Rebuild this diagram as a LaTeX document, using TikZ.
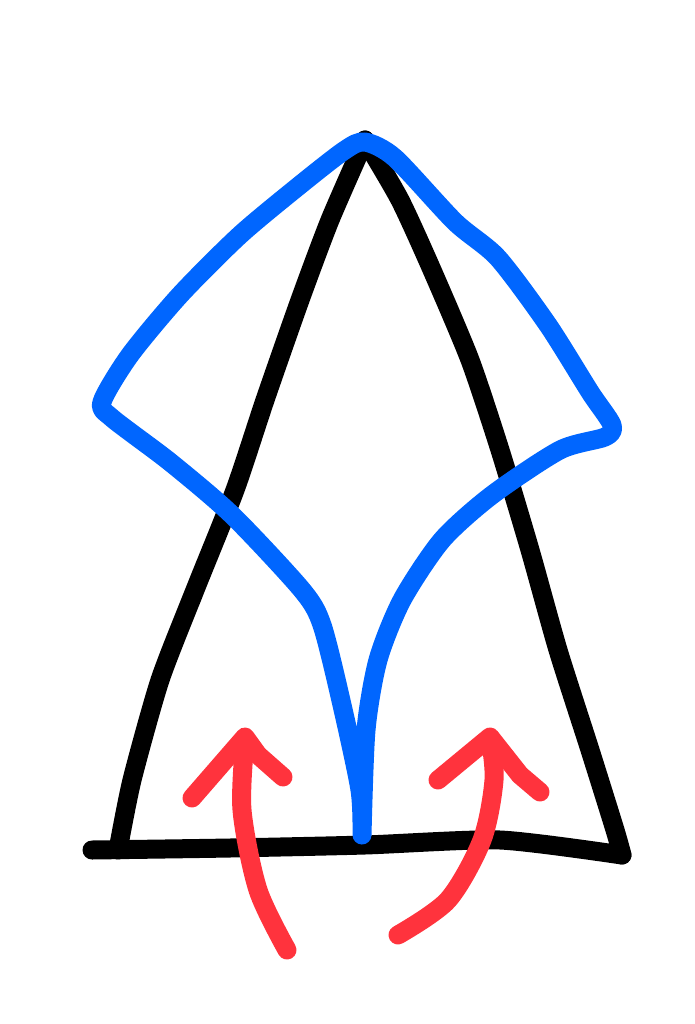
\documentclass[tikz,border=0pt]{standalone}
\usepackage{tikz}
\usetikzlibrary{calc}

\definecolor{penblue}{RGB}{0,102,255}
\definecolor{penred}{RGB}{255,51,61}

\tikzset{
	pen/.style={line width=19pt,line cap=round,line join=round},
	blackpen/.style={pen,black},
	bluepen/.style={pen,penblue},
	redpen/.style={pen,penred}
}

\begin{document}
\begin{tikzpicture}[x=1pt,y=-1pt]
		\useasboundingbox[fill=white] (0,0) rectangle (694,1024);
		% triangle
		\draw[blackpen] plot[smooth,tension=0.4] coordinates {(365,140) (330,220) (300,300) (265,400) (235,490) (195,590) (160,680) (132,780) (118,850)};
		\draw[blackpen] plot[smooth,tension=0.4] coordinates {(365,140) (400,200) (432,270) (470,360) (500,450) (530,550) (558,650) (590,750) (615,830) (622,855)};
		\draw[blackpen] plot[smooth,tension=0.4] coordinates {(92,850) (230,848) (365,845) (500,840) (622,855)};
		% blue outline
		\draw[bluepen] plot[smooth,tension=0.45] coordinates {(362,835) (360,790) (342,705) (322,625) (302,590) (232,515) (170,462) (112,418) (102,402) (130,355) (180,295) (240,235) (300,185) (345,150) (365,142) (395,158) (455,222) (498,258) (548,325) (590,392) (612,425) (605,437) (560,450) (492,495) (442,540) (402,600) (378,660) (366,730) (362,835)};
		% arrows
		\draw[redpen] plot[smooth,tension=0.5] coordinates {(287,950) (258,890) (242,810) (245,740)};
		\draw[redpen] (192,798) -- (245,737) -- (258,755) -- (283,777);
		\draw[redpen] plot[smooth,tension=0.5] coordinates {(398,935) (448,900) (482,840) (494,780) (490,738)};
		\draw[redpen] (438,780) -- (490,737) -- (520,775) -- (540,792);
	\end{tikzpicture}
\end{document}
